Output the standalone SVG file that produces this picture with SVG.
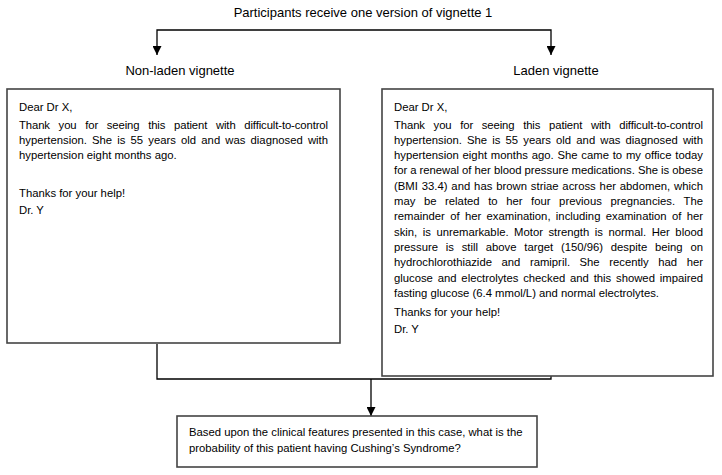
<svg xmlns="http://www.w3.org/2000/svg" width="722" height="475" viewBox="0 0 722 475">
<defs>
<marker id="ah" viewBox="0 0 10 10" refX="10" refY="5" markerWidth="9" markerHeight="9" markerUnits="userSpaceOnUse" orient="auto-start-reverse">
<path d="M0,0 L10,5 L0,10 Z" fill="#000"/>
</marker>
<style>
.box{fill:#fff;stroke:#444;stroke-width:1.6}
.con{fill:none;stroke:#000;stroke-width:1.3}
.t{font-family:"Liberation Sans",Arial,sans-serif;font-size:11.3px;fill:#000}
.h{font-family:"Liberation Sans",Arial,sans-serif;font-size:13px;fill:#000;text-anchor:middle}
</style>
</defs>
<rect width="722" height="475" fill="#fff"/>
<g id="title">
<text class="h" x="363" y="17">Participants receive one version of vignette 1</text>
</g>
<g id="connectors">
<path class="con" d="M157,55 V30 H551 V55" marker-start="url(#ah)" marker-end="url(#ah)"/>
<path class="con" d="M157,344 V379 H551 V376"/>
<path class="con" d="M371,379 V416" marker-end="url(#ah)"/>
</g>
<g id="label-nonladen">
<text class="h" x="180" y="75">Non-laden vignette</text>
</g>
<g id="label-laden">
<text class="h" x="556" y="75">Laden vignette</text>
</g>
<g id="nonladen">
<rect class="box" x="7" y="89" width="333" height="254"/>
<text class="t" x="19" y="110.5">Dear Dr X,</text>
<text class="t" x="19" y="128.5" word-spacing="5.7" textLength="309" lengthAdjust="spacing">Thank you for seeing this patient with difficult-to-control</text>
<text class="t" x="19" y="143.8" word-spacing="2" textLength="309" lengthAdjust="spacing">hypertension. She is 55 years old and was diagnosed with</text>
<text class="t" x="19" y="159.1">hypertension eight months ago.</text>
<text class="t" x="19" y="197">Thanks for your help!</text>
<text class="t" x="19" y="214">Dr. Y</text>
</g>
<g id="laden">
<rect class="box" x="382" y="89" width="331" height="287"/>
<text class="t" x="394" y="110.5">Dear Dr X,</text>
<text class="t" x="394" y="128.5" word-spacing="5.7" textLength="309" lengthAdjust="spacing">Thank you for seeing this patient with difficult-to-control</text>
<text class="t" x="394" y="143.8" word-spacing="2" textLength="309" lengthAdjust="spacing">hypertension. She is 55 years old and was diagnosed with</text>
<text class="t" x="394" y="159.1" word-spacing="0.6" textLength="309" lengthAdjust="spacing">hypertension eight months ago. She came to my office today</text>
<text class="t" x="394" y="174.4" word-spacing="-0.1" textLength="309" lengthAdjust="spacing">for a renewal of her blood pressure medications. She is obese</text>
<text class="t" x="394" y="189.7" word-spacing="0.6" textLength="309" lengthAdjust="spacing">(BMI 33.4) and has brown striae across her abdomen, which</text>
<text class="t" x="394" y="205" word-spacing="5.4" textLength="309" lengthAdjust="spacing">may be related to her four previous pregnancies. The</text>
<text class="t" x="394" y="220.3" word-spacing="2.2" textLength="309" lengthAdjust="spacing">remainder of her examination, including examination of her</text>
<text class="t" x="394" y="235.6" word-spacing="2.4" textLength="309" lengthAdjust="spacing">skin, is unremarkable. Motor strength is normal. Her blood</text>
<text class="t" x="394" y="250.9" word-spacing="4.6" textLength="309" lengthAdjust="spacing">pressure is still above target (150/96) despite being on</text>
<text class="t" x="394" y="266.2" word-spacing="6.4" textLength="309" lengthAdjust="spacing">hydrochlorothiazide and ramipril. She recently had her</text>
<text class="t" x="394" y="281.5" word-spacing="1.7" textLength="309" lengthAdjust="spacing">glucose and electrolytes checked and this showed impaired</text>
<text class="t" x="394" y="296.8">fasting glucose (6.4 mmol/L) and normal electrolytes.</text>
<text class="t" x="394" y="315.5">Thanks for your help!</text>
<text class="t" x="394" y="332.5">Dr. Y</text>
</g>
<g id="question">
<rect class="box" x="177" y="416" width="360" height="51"/>
<text class="t" x="189" y="436">Based upon the clinical features presented in this case, what is the</text>
<text class="t" x="189" y="452">probability of this patient having Cushing’s Syndrome?</text>
</g>
</svg>
